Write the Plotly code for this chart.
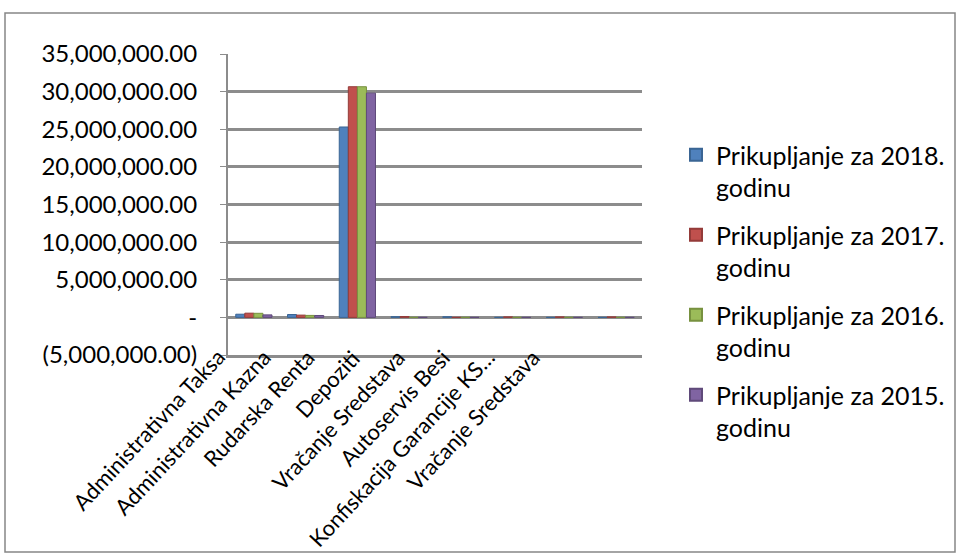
import plotly.graph_objects as go

# kategorije prihoda
kategorije = ['Administrativna Taksa', 'Administrativna Kazna', 'Rudarska Renta', 'Depoziti',
              'Vračanje Sredstava', 'Autoservis Besi', 'Konfiskacija Garancije KS…', 'Vračanje Sredstava']

# prikupljanje po godinama
god_2018 = [420000, 380000, 25300000, 90000, 80000, 0, 0, 0]
god_2017 = [560000, 300000, 30650000, 110000, 0, 60000, 60000, 60000]
god_2016 = [540000, 260000, 30650000, 0, 0, 0, 0, 0]
god_2015 = [330000, 250000, 29800000, 0, 0, 0, 0, 0]

serije = ['Prikupljanje za 2018.<br>godinu', 'Prikupljanje za 2017.<br>godinu',
          'Prikupljanje za 2016.<br>godinu', 'Prikupljanje za 2015.<br>godinu']
boje = ['#4F81BD', '#C0504D', '#9BBB59', '#8064A2']
rubovi = ['#3A6594', '#943B39', '#77913F', '#5F4A7A']

y_vrijednosti = [-5000000, 0, 5000000, 10000000, 15000000, 20000000, 25000000, 30000000, 35000000]
y_oznake = ['(5,000,000.00)', '-', '5,000,000.00', '10,000,000.00', '15,000,000.00',
            '20,000,000.00', '25,000,000.00', '30,000,000.00', '35,000,000.00']

pozicije = list(range(len(kategorije)))

fig = go.Figure()
for i, (ime, vrijednosti, boja, rub) in enumerate(zip(serije, [god_2018, god_2017, god_2016, god_2015], boje, rubovi)):
    fig.add_trace(go.Bar(x=pozicije, y=vrijednosti, name=ime, legendgroup=str(i),
                         marker=dict(color=boja, line=dict(color=rub, width=1))))

W, H = 960, 558
L, R, T, B = 228, 318, 54, 203


def px_x(p):
    return (p - L) / (W - L - R)


def px_y(p):
    return 1 - (p - T) / (H - T - B)


# nazivi kategorija kao u Excelu (ukoseni, malo gusce od stupaca)
oznake_x = [dict(text=k, xref='paper', yref='paper', x=px_x(233 + i * 45), y=px_y(341),
                 xanchor='right', yanchor='top', textangle=-47, showarrow=False,
                 font=dict(size=22))
            for i, k in enumerate(kategorije)]

fig.update_layout(
    width=W, height=H,
    margin=dict(l=L, r=R, t=T, b=B, autoexpand=False),
    paper_bgcolor='white', plot_bgcolor='white',
    font=dict(family='Lato', size=24, color='black'),
    barmode='group', bargap=0.3, bargroupgap=0,
    showlegend=True,
    legend=dict(x=px_x(676), y=px_y(132), xanchor='left', yanchor='top', valign='top',
                font=dict(size=25), tracegroupgap=12, itemsizing='constant', maxheight=500),
    xaxis=dict(tickvals=pozicije, showticklabels=False, range=[-0.5, len(kategorije) - 0.5],
               automargin=False,
               showgrid=False, showline=True, linecolor='#8c8c8c', linewidth=2.5,
               ticks='', fixedrange=True),
    yaxis=dict(range=[-5000000, 35000000], tickvals=y_vrijednosti, ticktext=y_oznake,
               automargin=False,
               showgrid=True, gridcolor='#8c8c8c', gridwidth=2.5,
               zeroline=True, zerolinecolor='#8c8c8c', zerolinewidth=2.5,
               showline=True, linecolor='#8c8c8c', linewidth=2,
               ticks='outside', tickcolor='#8c8c8c', ticklen=6, ticklabelstandoff=18,
               tickfont=dict(size=24), fixedrange=True),
    annotations=oznake_x,
    shapes=[dict(type='rect', xref='paper', yref='paper',
                 x0=px_x(5), x1=px_x(955), y0=px_y(552), y1=px_y(13),
                 line=dict(color='#868686', width=1.5), fillcolor='rgba(0,0,0,0)', layer='below')],
)

fig.write_html('out.html', config={'displayModeBar': False},
               post_script="document.body.style.margin='0';")
